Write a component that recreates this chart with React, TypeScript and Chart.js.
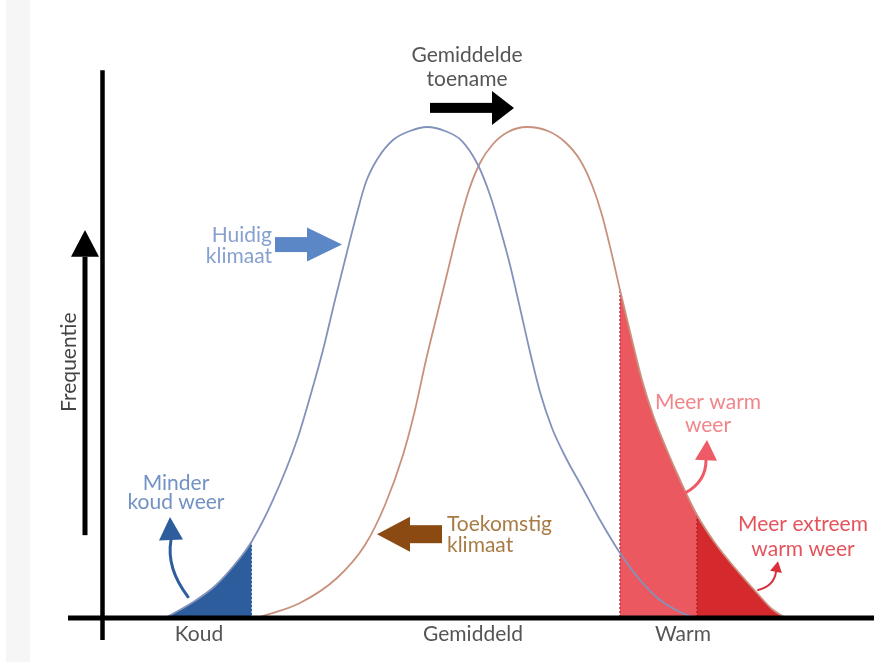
import React, { useEffect, useRef } from "react";
import { Chart, registerables } from "chart.js";

Chart.register(...registerables);

// x: temperature relative to the current mean, y: relative frequency (peak = 100)
const huidigX = [-5.2, -4.74, -4.24, -3.74, -3.5, -3.08, -2.6, -2.3, -2.08, -1.84, -1.6, -1.4, -1.22, -0.98, -0.68, -0.34, 0, 0.36, 0.7, 1.02, 1.26, 1.46, 1.66, 1.86, 2.06, 2.26, 2.5, 2.78, 3.1, 3.46, 3.86, 4.26, 4.66, 5.06, 5.3];
const huidigY = [0, 2.65, 6.33, 12.04, 15.51, 23.88, 36.12, 46.33, 54.49, 64.69, 74.49, 82.45, 88.78, 93.67, 97.35, 99.18, 100, 99.18, 97.14, 92.24, 86.12, 79.39, 71.84, 63.06, 54.08, 45.92, 38.57, 32.45, 26.53, 19.8, 13.06, 7.55, 3.47, 1.02, 0];

const toekomstX = [-3.34, -2.54, -1.8, -1.24, -0.84, -0.48, -0.24, -0.02, 0.2, 0.42, 0.64, 0.84, 1.06, 1.32, 1.62, 2.0, 2.42, 2.76, 3.06, 3.3, 3.5, 3.7, 3.86, 4.1, 4.3, 4.52, 4.78, 5.06, 5.4, 5.76, 6.16, 6.6, 6.9, 7.14];
const toekomstY = [0, 2.86, 7.96, 14.69, 22.86, 33.06, 42.24, 52.45, 61.63, 70.82, 80.0, 87.14, 92.65, 96.53, 98.98, 100, 99.18, 96.94, 93.27, 88.16, 82.04, 73.88, 66.73, 56.53, 48.37, 41.22, 34.49, 27.96, 20.82, 15.1, 10.0, 4.9, 1.63, 0];

const koudGrens = -3.5;
const warmGrens = 3.86;
const extreemGrens = 5.4;

const asLabels = ["Koud", "Gemiddeld", "Warm"];
const asPosities = [-4.56, 0.92, 5.12];

const pts = (xs: number[], ys: number[]) => xs.map((x, i) => ({ x, y: ys[i] }));
const between = (p: { x: number; y: number }[], a: number, b: number) =>
  p.filter((q) => q.x >= a - 1e-9 && q.x <= b + 1e-9);
const yAt = (p: { x: number; y: number }[], x: number) => {
  const f = p.find((q) => Math.abs(q.x - x) < 1e-9);
  return f ? f.y : 0;
};

const FONT = "Lato, 'Open Sans', sans-serif";
const FS = 21;

const overlay = {
  id: "overlay",
  beforeDraw(chart: any) {
    const ctx = chart.ctx;
    ctx.save();
    ctx.fillStyle = "#f6f6f6";
    ctx.fillRect(6, 0, 24, chart.height);
    ctx.restore();
  },
  afterDraw(chart: any) {
    const xs = chart.scales.x;
    const ys = chart.scales.y;
    const X = (v: number) => xs.getPixelForValue(v);
    const Y = (v: number) => ys.getPixelForValue(v);
    const ctx: CanvasRenderingContext2D = chart.ctx;
    ctx.save();

    const seg = (x0: number, y0: number, x1: number, y1: number) => {
      ctx.beginPath();
      ctx.moveTo(x0, y0);
      ctx.lineTo(x1, y1);
      ctx.stroke();
    };
    const tri = (a: number[], b: number[], c: number[], col: string) => {
      ctx.fillStyle = col;
      ctx.beginPath();
      ctx.moveTo(a[0], a[1]);
      ctx.lineTo(b[0], b[1]);
      ctx.lineTo(c[0], c[1]);
      ctx.closePath();
      ctx.fill();
    };
    const hArrow = (tail: number, base: number, tip: number, yv: number, sh: number, hh: number, col: string) => {
      const y = Y(yv);
      const t = X(tail), b = X(base), p = X(tip);
      ctx.fillStyle = col;
      ctx.fillRect(Math.min(t, b), y - sh, Math.abs(b - t), sh * 2);
      tri([b, y - hh], [b, y + hh], [p, y], col);
    };
    const text = (s: string, xv: number, yv: number, align: CanvasTextAlign, col: string, size = FS) => {
      ctx.font = `${size}px ${FONT}`;
      ctx.fillStyle = col;
      ctx.textAlign = align;
      ctx.textBaseline = "alphabetic";
      ctx.fillText(s, X(xv), Y(yv));
    };
    const curved = (s: number[], c: number[], e: number[], t: number[], hw: number, lw: number, col: string) => {
      ctx.strokeStyle = col;
      ctx.lineWidth = lw;
      ctx.lineCap = "round";
      ctx.beginPath();
      ctx.moveTo(X(s[0]), Y(s[1]));
      ctx.quadraticCurveTo(X(c[0]), Y(c[1]), X(e[0]), Y(e[1]));
      ctx.stroke();
      const ex = X(e[0]), ey = Y(e[1]), tx = X(t[0]), ty = Y(t[1]);
      const dx = tx - ex, dy = ty - ey;
      const len = Math.hypot(dx, dy) || 1;
      const nx = -dy / len, ny = dx / len;
      tri([ex + nx * hw, ey + ny * hw], [ex - nx * hw, ey - ny * hw], [tx, ty], col);
    };

    // axes
    ctx.strokeStyle = "#000";
    ctx.lineCap = "butt";
    ctx.lineWidth = 4.5;
    seg(X(-6.49), Y(111.6), X(-6.49), Y(-4.7));
    ctx.lineWidth = 5;
    seg(X(-7.18), Y(-0.2), X(8.94), Y(-0.2));

    // frequency arrow
    const fx = X(-6.84);
    ctx.fillStyle = "#000";
    ctx.fillRect(fx - 2.5, Y(73.5), 5, Y(16.7) - Y(73.5));
    tri([fx - 14, Y(73.5)], [fx + 14, Y(73.5)], [fx, Y(79)], "#000");
    ctx.save();
    ctx.translate(X(-7.15), Y(52.0));
    ctx.rotate(-Math.PI / 2);
    ctx.font = `21px ${FONT}`;
    ctx.fillStyle = "#444";
    ctx.textAlign = "center";
    ctx.textBaseline = "middle";
    ctx.fillText("Frequentie", 0, 0);
    ctx.restore();

    // axis labels
    asLabels.forEach((l, i) => text(l, asPosities[i], -4.9, "center", "#555"));

    // mean shift
    text("Gemiddelde", 0.8, 113.3, "center", "#555");
    text("toename", 0.8, 108.4, "center", "#555");
    hArrow(0.06, 1.3, 1.74, 103.9, 5, 17, "#000");

    // current climate
    text("Huidig", -3.1, 76.5, "right", "#86a0cf");
    text("klimaat", -3.1, 72.2, "right", "#86a0cf");
    hArrow(-3.04, -2.4, -1.7, 76.0, 7.5, 17, "#5b87c6");

    // future climate
    text("Toekomstig", 0.4, 17.6, "left", "#a87b45");
    text("klimaat", 0.4, 13.3, "left", "#a87b45");
    hArrow(0.3, -0.34, -1.0, 16.9, 9, 17.5, "#8b4a12");

    // less cold
    text("Minder", -5.02, 25.9, "center", "#7291c4");
    text("koud weer", -5.02, 22.0, "center", "#7291c4");
    curved([-4.78, 4.1], [-5.22, 10.0], [-5.12, 15.7], [-5.14, 20.4], 12, 3, "#2e5d9e");

    // more warm
    text("Meer warm", 5.62, 42.4, "center", "#f0858a");
    text("weer", 5.62, 37.8, "center", "#f0858a");
    curved([5.16, 25.3], [5.58, 27.6], [5.58, 32.0], [5.6, 36.1], 11, 3, "#ee5a66");

    // more extreme
    text("Meer extreem", 7.52, 17.6, "center", "#e4545c");
    text("warm weer", 7.52, 12.4, "center", "#e4545c");
    curved([6.62, 5.5], [6.94, 6.3], [6.98, 9.2], [7.02, 11.4], 6, 2, "#d9303a");

    ctx.restore();
  },
};

export default function App() {
  const ref = useRef<HTMLCanvasElement | null>(null);
  useEffect(() => {
    if (!ref.current) return;
    const huidig = pts(huidigX, huidigY);
    const toekomst = pts(toekomstX, toekomstY);
    const common = { pointRadius: 0, cubicInterpolationMode: "monotone" as const };
    const edge = (x: number, y: number, col: string) => ({
      data: [{ x, y: 0 }, { x, y }],
      borderColor: col,
      borderWidth: 1.5,
      borderDash: [2, 2],
      pointRadius: 0,
      fill: false,
      order: 3,
    });
    const chart = new Chart(ref.current, {
      type: "line",
      data: {
        datasets: [
          { label: "Huidig klimaat", data: huidig, borderColor: "#8293bb", borderWidth: 1.8, fill: false, order: 0, ...common },
          { label: "Toekomstig klimaat", data: toekomst, borderColor: "#c9917d", borderWidth: 1.8, fill: false, order: 1, ...common },
          edge(koudGrens, yAt(huidig, koudGrens), "rgba(255,255,255,0.7)"),
          edge(warmGrens, yAt(toekomst, warmGrens), "#c23038"),
          edge(extreemGrens, yAt(toekomst, extreemGrens), "#b82025"),
          { label: "Minder koud weer", data: between(huidig, -Infinity, koudGrens), borderWidth: 0, borderColor: "rgba(0,0,0,0)", backgroundColor: "#2e5d9e", fill: "origin", order: 5, ...common },
          { label: "Meer warm weer", data: between(toekomst, warmGrens, extreemGrens), borderWidth: 0, borderColor: "rgba(0,0,0,0)", backgroundColor: "#ec5860", fill: "origin", order: 5, ...common },
          { label: "Meer extreem warm weer", data: between(toekomst, extreemGrens, Infinity), borderWidth: 0, borderColor: "rgba(0,0,0,0)", backgroundColor: "#d42a2e", fill: "origin", order: 5, ...common },
        ],
      },
      options: {
        animation: false,
        responsive: false,
        layout: { padding: { left: 102, top: 70, right: 0, bottom: 45 } },
        scales: {
          x: { type: "linear", min: -6.5, max: 8.94, display: false },
          y: { type: "linear", min: 0, max: 111.63, display: false },
        },
        plugins: { legend: { display: false }, tooltip: { enabled: false } },
      },
      plugins: [overlay],
    });
    return () => chart.destroy();
  }, []);
  return (
    <div style={{ position: "absolute", left: 0, top: 0, width: 874, height: 662, background: "#fff" }}>
      <canvas ref={ref} width={874} height={662} style={{ display: "block" }} />
    </div>
  );
}
